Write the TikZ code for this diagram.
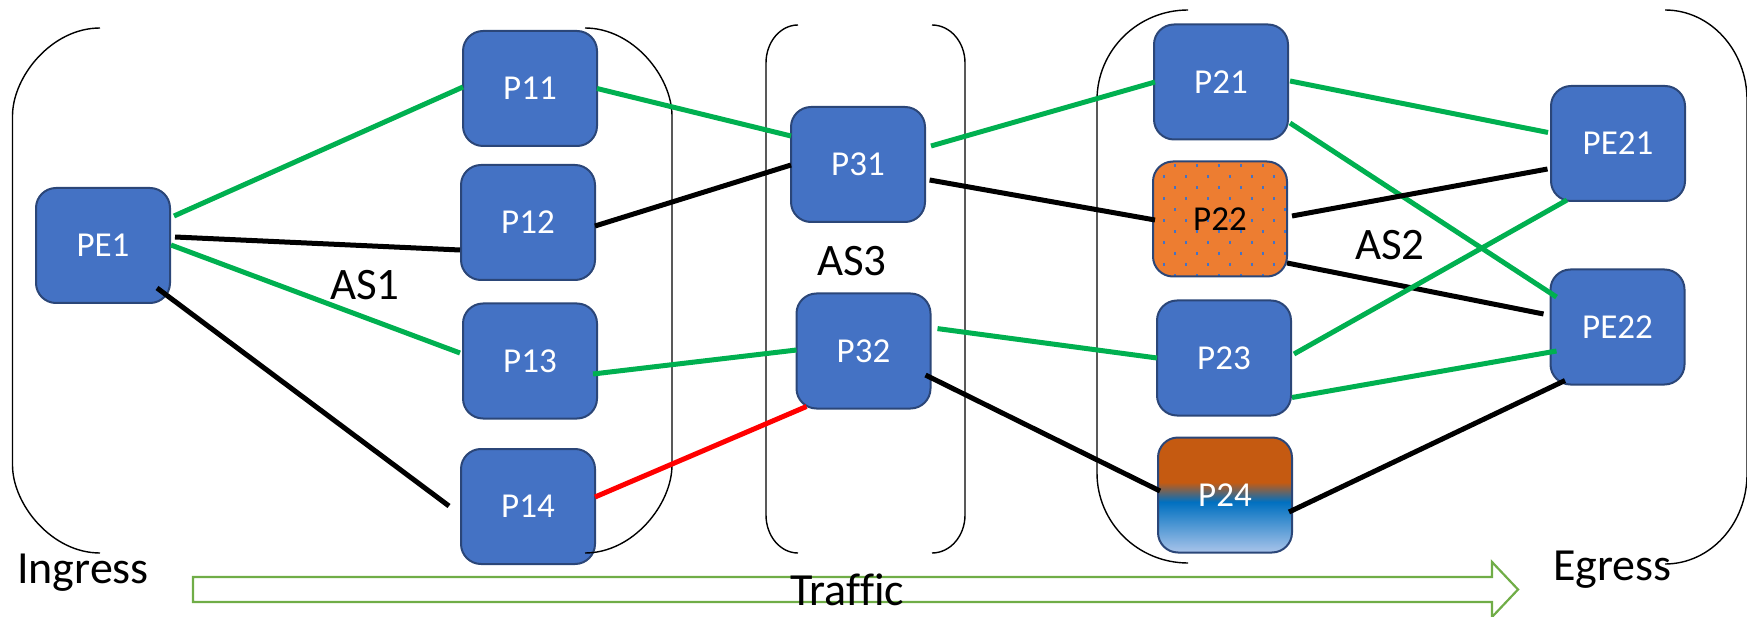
\documentclass[tikz,border=0pt]{standalone}
\usepackage{fontspec}
\setmainfont[Ligatures=NoCommon]{Carlito}
\usetikzlibrary{calc}
\definecolor{boxfill}{HTML}{4472C4}
\definecolor{boxline}{HTML}{2B4678}
\definecolor{lgreen}{HTML}{00B050}
\definecolor{lred}{HTML}{FF0000}
\definecolor{agreen}{HTML}{70AD47}
\definecolor{orfill}{HTML}{ED7D31}
\definecolor{pbrown}{HTML}{C55A11}
\definecolor{pblue}{HTML}{0070C0}
\definecolor{plight}{HTML}{A9C4EA}
\pgfdeclareverticalshading{ptfour}{100bp}{color(0bp)=(plight); color(25bp)=(plight); color(47bp)=(pblue); color(55.5bp)=(pbrown); color(100bp)=(pbrown)}
\begin{document}
\begin{tikzpicture}[x=1pt, y=-1pt,
  boxbase/.style={draw=boxline, line width=2pt, rounded corners=20pt,
    minimum width=134pt, minimum height=115pt, inner sep=0pt, outer sep=0pt,
    text=white, font=\fontsize{35}{40}\selectfont},
  box/.style={boxbase, fill=boxfill},
  gline/.style={draw=lgreen, line width=5pt},
  bline/.style={draw=black, line width=5pt},
  rline/.style={draw=lred, line width=5pt},
  brack/.style={draw=black, line width=1.4pt},
  biglabel/.style={inner sep=0pt, font=\fontsize{46}{50}\selectfont},
  aslabel/.style={inner sep=0pt, font=\fontsize{45}{50}\selectfont}]
\useasboundingbox (0,0) rectangle (1747,617);

% traffic arrow
\draw[agreen, line width=2.2pt] (193,577) -- (1492,577) -- (1492,562) -- (1518,589.5) -- (1492,617) -- (1492,602) -- (193,602) -- cycle;

% nodes
\node[box] (PE1) at (103,245.5) {PE1};
\node[box] (P11) at (530,88.5) {P11};
\node[box] (P12) at (528,222.5) {P12};
\node[box] (P13) at (530,361) {P13};
\node[box] (P14) at (528,506.5) {P14};
\node[box] (P31) at (858,164.5) {P31};
\node[box] (P32) at (863.5,351) {P32};
\node[box] (P21) at (1221,82) {P21};
\node[boxbase, fill=orfill, text=black,
  path picture={\foreach \r in {0,...,10}{\foreach \m in {0,...,6}{
    \fill[boxfill, sharp corners] ([shift={({mod(\r,2)*11+22*\m-1},{3+11*\r})}]path picture bounding box.north west) rectangle ++(2.2,2.2);}}}]
  (P22) at (1220,219) {P22};
\node[box] (P23) at (1224,358) {P23};
\node[boxbase, shade, shading=ptfour] (P24) at (1225,495) {P24};
\node[box] (PE21) at (1618,143.5) {PE21};
\node[box] (PE22) at (1617.5,327) {PE22};

% brackets
\draw[brack] (100,28) .. controls (51.7,28) and (12.5,76.6) .. (12.5,116) -- (12.5,465) .. controls (12.5,504.4) and (51.7,553) .. (100,553);
\draw[brack] (585,28) .. controls (633,28) and (672,76.6) .. (672,116) -- (672,465) .. controls (672,504.4) and (633,553) .. (585,553);
\draw[brack] (798,25) .. controls (780.3,25) and (766,42) .. (766,63) -- (766,515) .. controls (766,536) and (780.3,553) .. (798,553);
\draw[brack] (932,25) .. controls (950.2,25) and (965,42) .. (965,63) -- (965,515) .. controls (965,536) and (950.2,553) .. (932,553);
\draw[brack] (1188,10) .. controls (1137.8,10) and (1097,50.3) .. (1097,100) -- (1097,473) .. controls (1097,522.7) and (1137.8,563) .. (1188,563);
\draw[brack] (1665,10) .. controls (1710.3,10) and (1747,50.3) .. (1747,100) -- (1747,474) .. controls (1747,523.7) and (1710.3,564) .. (1665,564);

% connectors
\draw[gline] ([shift={(4,-29.5)}]PE1.east) -- ([shift={(0,-1.5)}]P11.west);
\draw[bline] ([shift={(5,-8.5)}]PE1.east) -- ([shift={(-1,27.5)}]P12.west);
\draw[gline] ([shift={(1,-0.5)}]PE1.east) -- ([shift={(-3,-8)}]P13.west);
\draw[bline] ([shift={(-13,42.5)}]PE1.east) -- ([shift={(-12,-0.5)}]P14.west);

\draw[gline] (P11.east) -- ([shift={(0,-28.5)}]P31.west);
\draw[bline] ([shift={(0,3.5)}]P12.east) -- ([shift={(0,0.5)}]P31.west);
\draw[gline] ([shift={(-4,13)}]P13.east) -- ([shift={(0,-1)}]P32.west);
\draw[rline] ([shift={(0,-9.5)}]P14.east) -- ([shift={(10,-2)}]P32.south west);

\draw[gline] ([shift={(6,-18.5)}]P31.east) -- ([shift={(1,0)}]P21.west);
\draw[bline] ([shift={(4.6,15.5)}]P31.east) -- ([shift={(2,1)}]P22.west);
\draw[gline] ([shift={(7,-22.4)}]P32.east) -- (P23.west);
\draw[bline] ([shift={(-5,24)}]P32.east) -- ([shift={(2,-4)}]P24.west);

\draw[gline] ([shift={(2,-1)}]P21.east) -- ([shift={(-3,-11)}]PE21.west);
\draw[gline] ([shift={(2,41)}]P21.east) -- ([shift={(6,-30)}]PE22.west);
\draw[bline] ([shift={(5,-3)}]P22.east) -- ([shift={(-3.5,25.5)}]PE21.west);
\draw[bline] ([shift={(0,44)}]P22.east) -- ([shift={(-7,-13)}]PE22.west);
\draw[gline] ([shift={(3,-4)}]P23.east) -- ([shift={(-51,-1)}]PE21.south);
\draw[gline] ([shift={(1,39.5)}]P23.east) -- ([shift={(6,24)}]PE22.west);
\draw[bline] ([shift={(-3,17)}]P24.east) -- ([shift={(-52.5,-4)}]PE22.south);

% labels
\node[aslabel] (AS1) at (365,285.5) {AS1};
\node[aslabel] (AS3) at (852,261.5) {AS3};
\node[aslabel] (AS2) at (1390,245) {AS2};
\node[biglabel, anchor=base west] (ingress) at (17,583) {Ingress};
\node[biglabel, anchor=base west] (egress) at (1553,580) {Egress};
\node[biglabel, anchor=base west] (traffic) at (790,605) {Traffic};
\end{tikzpicture}
\end{document}
